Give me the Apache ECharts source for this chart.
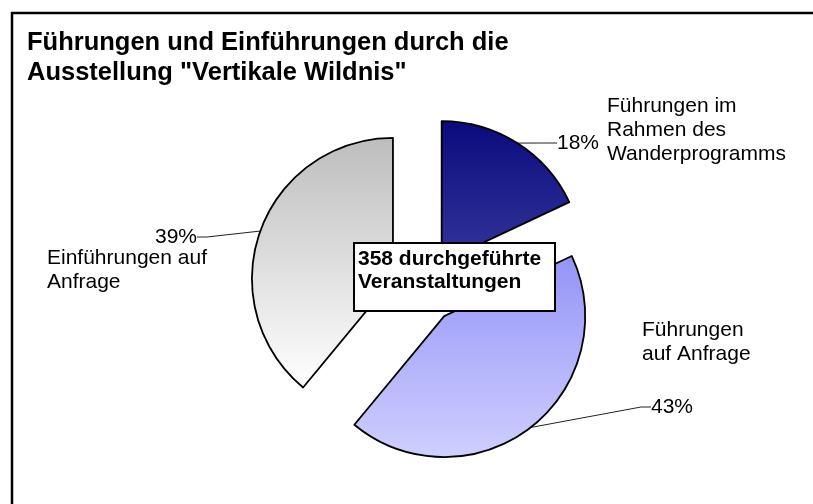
<!DOCTYPE html>
<html>
<head>
<meta charset="utf-8">
<script src="https://cdn.jsdelivr.net/npm/echarts@6/dist/echarts.min.js"></script>
<style>
  html, body { margin: 0; padding: 0; background: #fff; }
  #main { width: 813px; height: 504px; }
</style>
</head>
<body>
<div id="main"></div>
<script>
// Anteile der Veranstaltungsarten (Prozent)
const categories = [
  'Führungen im\nRahmen des\nWanderprogramms',
  'Führungen\nauf Anfrage',
  'Einführungen auf\nAnfrage'
];
const shares = [18, 43, 39];
const totalEvents = 358;

const FONT = '"Liberation Sans", Arial, sans-serif';

// Verlauf oben -> unten je Segment
const gradTop = ['#0a0a7d', '#9494f6', '#bdbdbd'];
const gradBottom = ['#35359c', '#cfcfff', '#ffffff'];

// wo die Prozentwerte stehen
const pctPos = [
  { x: 557, y: 143, align: 'left' },
  { x: 651, y: 407, align: 'left' },
  { x: 197, y: 237, align: 'right' }
];
const namePos = [
  { left: 607, top: 94 },
  { left: 642, top: 318 },
  { left: 47, top: 246 }
];

const baseCenter = [424, 290];
const pieRadius = 141;
const explode = 33;

const chart = echarts.init(document.getElementById('main'));

const total = shares.reduce(function (a, b) { return a + b; }, 0);

// each slice is its own pie series so it can be pulled out of the middle
function sliceSeries(k) {
  let before = 0;
  for (let i = 0; i < k; i++) before += shares[i];
  const mid = (before + shares[k] / 2) / total * 2 * Math.PI;
  const cx = baseCenter[0] + explode * Math.sin(mid);
  const cy = baseCenter[1] - explode * Math.cos(mid);

  const data = shares.map(function (v, i) {
    if (i !== k) {
      return {
        name: categories[i], value: v,
        itemStyle: { color: 'transparent', borderWidth: 0 },
        label: { show: false }, labelLine: { show: false }
      };
    }
    return {
      name: categories[i],
      value: v,
      itemStyle: {
        color: new echarts.graphic.LinearGradient(0, 0, 0, 1, [
          { offset: 0, color: gradTop[i] },
          { offset: 1, color: gradBottom[i] }
        ]),
        borderColor: '#000',
        borderWidth: 1.8
      }
    };
  });

  return {
    type: 'pie',
    name: categories[k],
    center: [cx, cy],
    radius: pieRadius,
    startAngle: 90,
    clockwise: true,
    silent: true,
    emphasis: { disabled: true },
    label: {
      show: true,
      position: 'outside',
      formatter: function (p) { return p.value + '%'; },
      fontFamily: FONT,
      fontSize: 21,
      color: '#000'
    },
    labelLine: {
      show: true,
      length: 4,
      length2: 10,
      lineStyle: { color: '#222', width: 1 }
    },
    labelLayout: function () {
      const p = pctPos[k];
      return { x: p.x, y: p.y, align: p.align, verticalAlign: 'middle' };
    },
    data: data
  };
}

const nameTexts = categories.map(function (c, i) {
  return {
    type: 'text',
    left: namePos[i].left,
    top: namePos[i].top,
    style: {
      text: c,
      font: '21px ' + FONT,
      fill: '#000',
      lineHeight: 24
    }
  };
});

const option = {
  animation: false,
  title: [{
    text: 'Führungen und Einführungen durch die\nAusstellung "Vertikale Wildnis"',
    left: 27,
    top: 28,
    padding: 0,
    textStyle: {
      fontFamily: FONT,
      fontSize: 25.5,
      fontWeight: 'bold',
      color: '#000',
      lineHeight: 30
    }
  }, {
    text: totalEvents + ' durchgeführte\nVeranstaltungen',
    left: 354,
    top: 243,
    padding: [5, 14, 17, 4],
    backgroundColor: '#fff',
    borderColor: '#000',
    borderWidth: 2,
    textStyle: {
      fontFamily: FONT,
      fontSize: 21,
      fontWeight: 'bold',
      color: '#000',
      lineHeight: 23
    }
  }],
  graphic: [{
    type: 'rect',
    shape: { x: 12, y: 13, width: 900, height: 600 },
    style: { fill: 'none', stroke: '#000', lineWidth: 2.5 },
    z: 100
  }].concat(nameTexts),
  series: [sliceSeries(0), sliceSeries(1), sliceSeries(2)]
};

chart.setOption(option);
</script>
</body>
</html>
